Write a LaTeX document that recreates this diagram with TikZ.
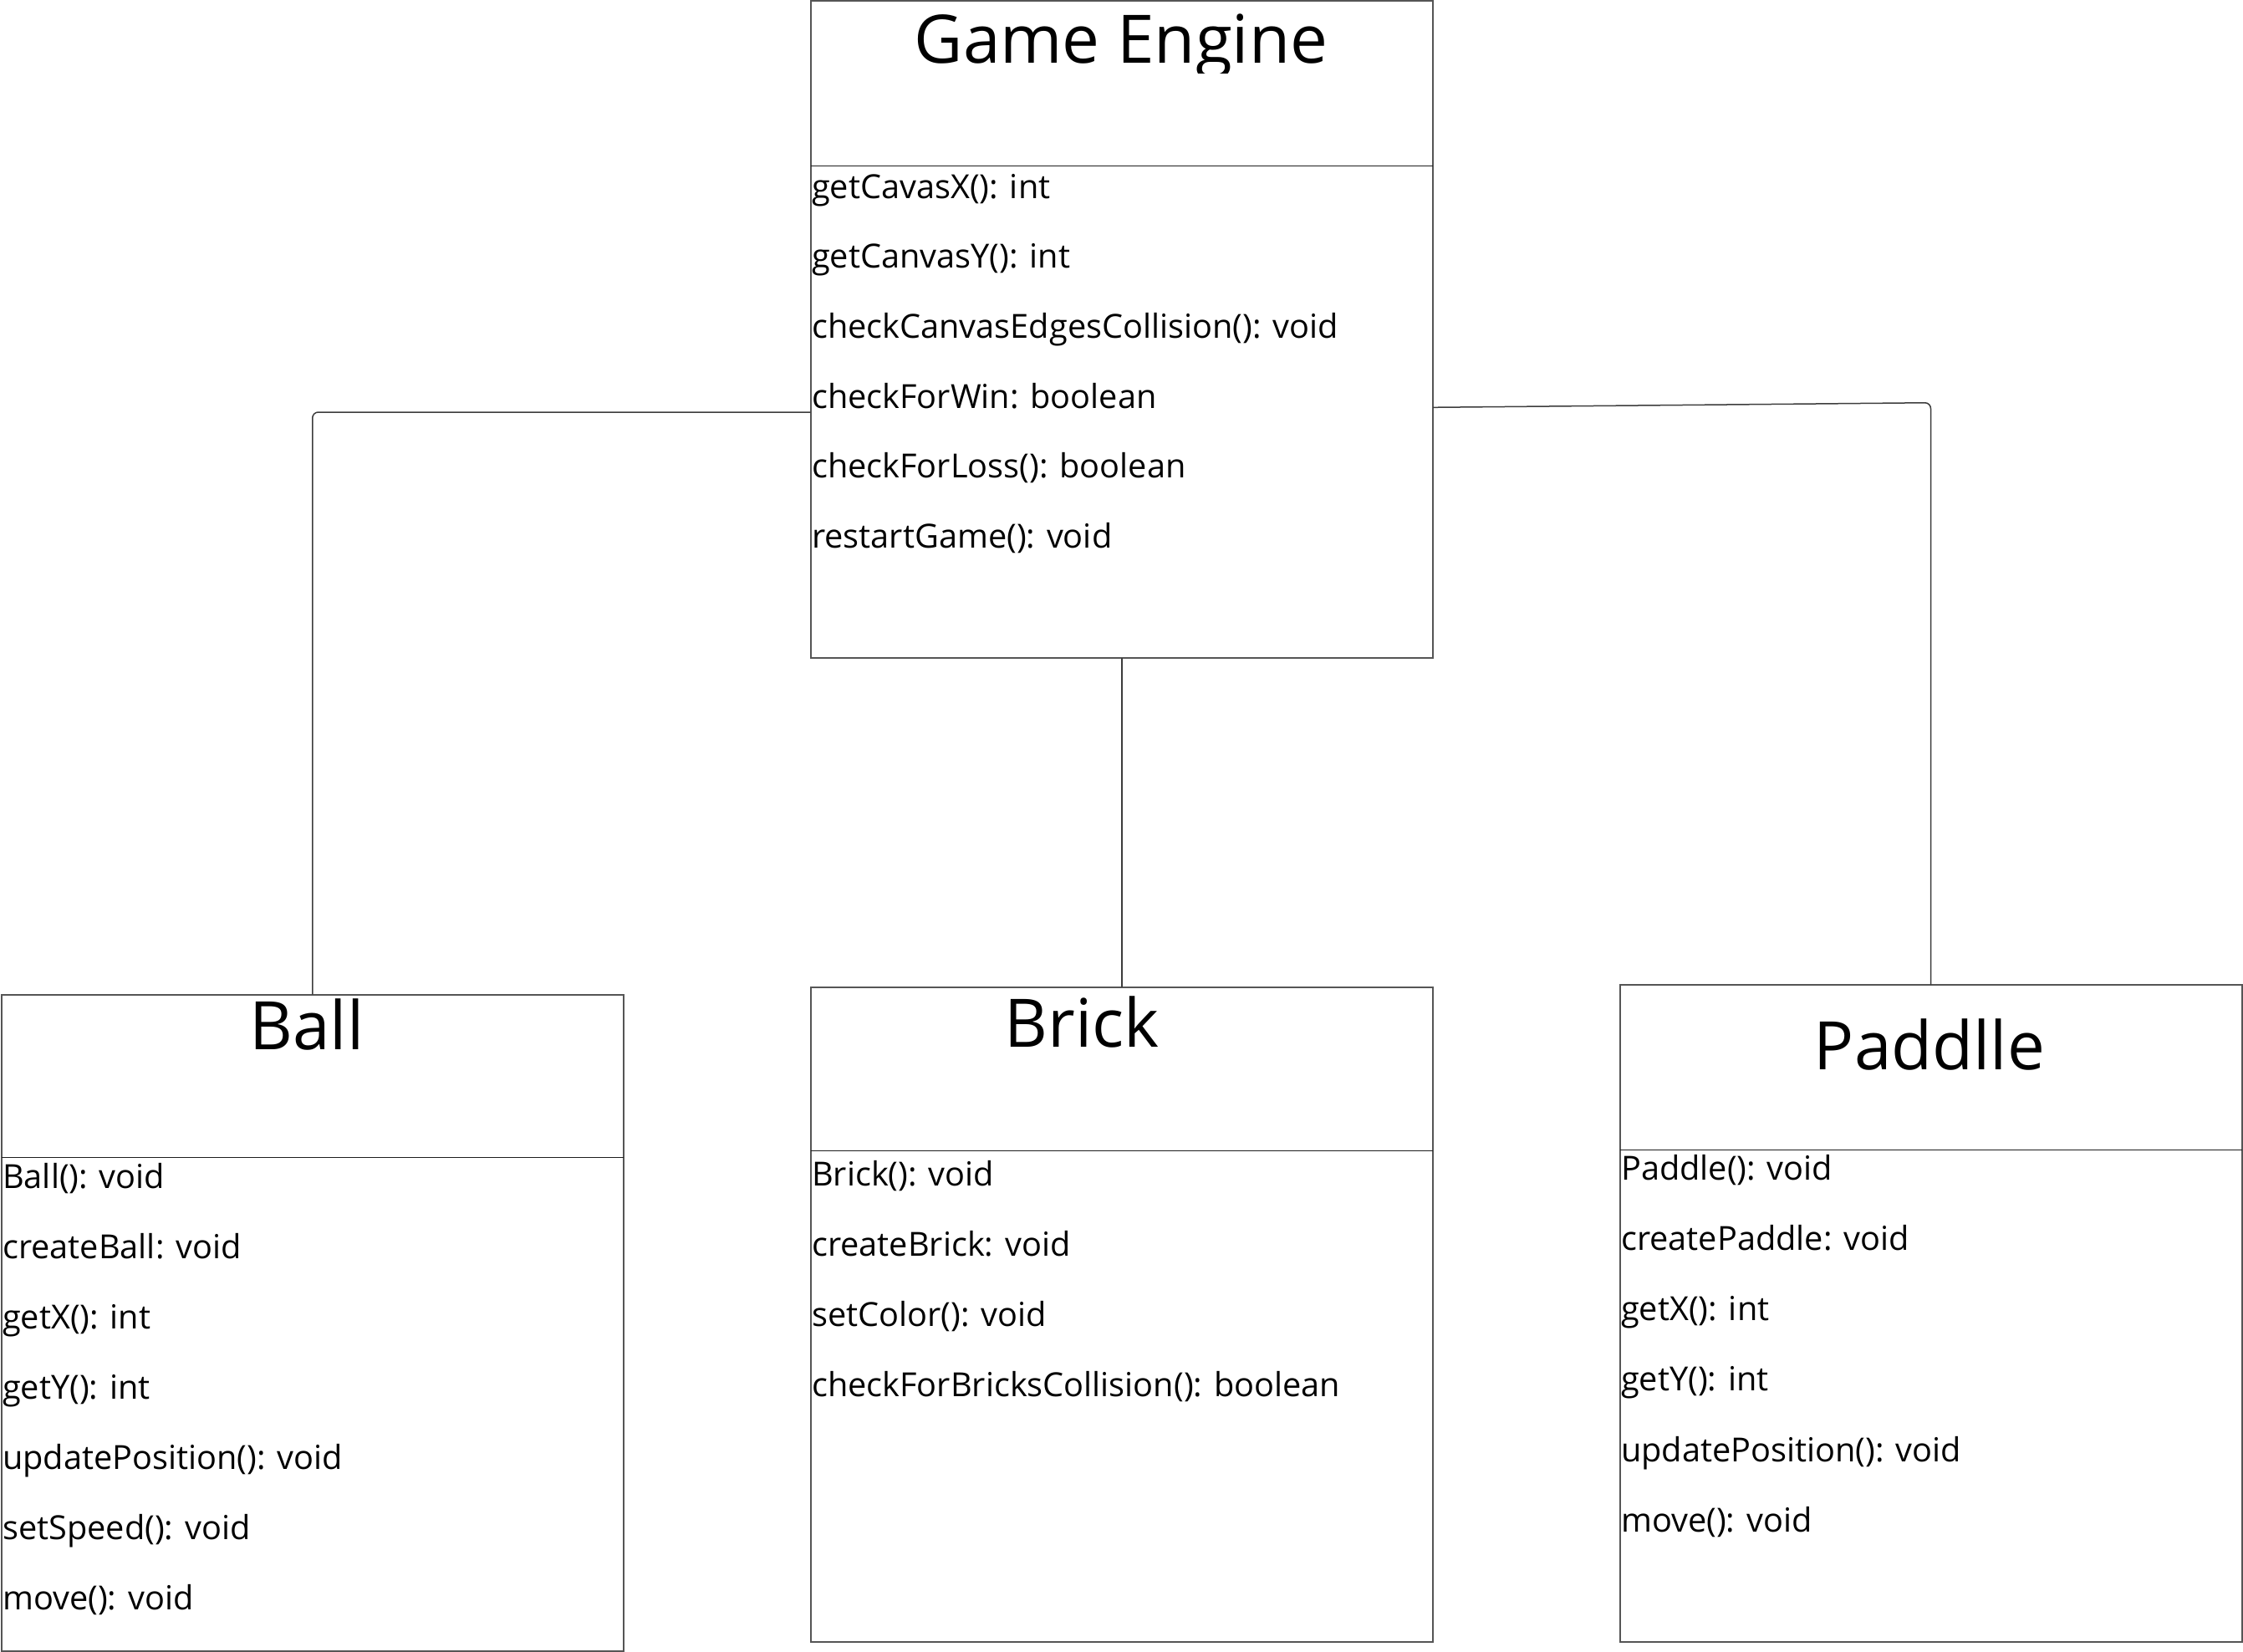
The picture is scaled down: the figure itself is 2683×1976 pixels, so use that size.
\documentclass[tikz,border=0pt]{standalone}
\usepackage{fontspec}
\setmainfont{Open Sans}
\definecolor{boxgray}{RGB}{85,85,85}
\definecolor{divgray}{RGB}{30,30,30}
\definecolor{congray}{RGB}{60,60,60}
\begin{document}
\begin{tikzpicture}[x=1pt,y=-1pt,
  classbox/.style={draw=boxgray, line width=2pt, rectangle, inner sep=0pt, outer sep=0pt, anchor=north west},
  divider/.style={draw=divgray, line width=1.2pt},
  conn/.style={draw=congray, line width=1.5pt, rounded corners=7pt},
  title/.style={anchor=base, inner sep=0pt, font=\fontsize{80}{96}\selectfont},
  method/.style={anchor=base west, inner sep=0pt, font=\fontsize{39.7}{48}\selectfont}]
\useasboundingbox (0,0) rectangle (2683,1976);
\fill[white] (0,0) rectangle (2683,1976);

% boxes
\node[classbox, minimum width=744.5pt, minimum height=786pt] (ge) at (969.5,1) {};
\node[classbox, minimum width=744.5pt, minimum height=785pt] (ball) at (1.5,1189.5) {};
\node[classbox, minimum width=744.5pt, minimum height=783pt] (brick) at (969.5,1181) {};
\node[classbox, minimum width=744pt, minimum height=785.5pt] (paddle) at (1937.5,1178) {};

% dividers
\draw[divider] (ge.west |- 0,198.5) -- (ge.east |- 0,198.5);
\draw[divider] (ball.west |- 0,1384.5) -- (ball.east |- 0,1384.5);
\draw[divider] (brick.west |- 0,1376.7) -- (brick.east |- 0,1376.7);
\draw[divider] (paddle.west |- 0,1375.5) -- (paddle.east |- 0,1375.5);

% titles
\begin{scope}
\clip (968,0) rectangle (1714,87);
\node[title] (getitle) at (1341,75.5) {Game Engine};
\end{scope}
\node[title] (balltitle) at (367,1255) {Ball};
\node[title] (bricktitle) at (1294,1252.5) {Brick};
\node[title] (paddletitle) at (2308,1279.5) {Paddlle};

% methods
\foreach \t [count=\i] in {getCavasX(): int, getCanvasY(): int, checkCanvasEdgesCollision(): void, checkForWin: boolean, checkForLoss(): boolean, restartGame(): void}
  \node[method] (gem\i) at (971,{237+83.7*(\i-1)}) {\t};
\foreach \t [count=\i] in {Ball(): void, createBall: void, getX(): int, getY(): int, updatePosition(): void, setSpeed(): void, move(): void}
  \node[method] (ballm\i) at (3,{1421+84*(\i-1)}) {\t};
\foreach \t [count=\i] in {Brick(): void, createBrick: void, setColor(): void, checkForBricksCollision(): boolean}
  \node[method] (brickm\i) at (971,{1418+84*(\i-1)}) {\t};
\foreach \t [count=\i] in {Paddle(): void, createPaddle: void, getX(): int, getY(): int, updatePosition(): void, move(): void}
  \node[method] (paddlem\i) at (1939,{1411.6+84.1*(\i-1)}) {\t};

% connectors
\draw[conn] (ge.west |- 0,493) -- (ball.north |- 0,493) -- (ball.north);
\draw[conn] (ge.south) -- (brick.north);
\draw[conn] (ge.east |- 0,487.3) -- (paddle.north |- 0,481.7) -- (paddle.north);
\end{tikzpicture}
\end{document}
